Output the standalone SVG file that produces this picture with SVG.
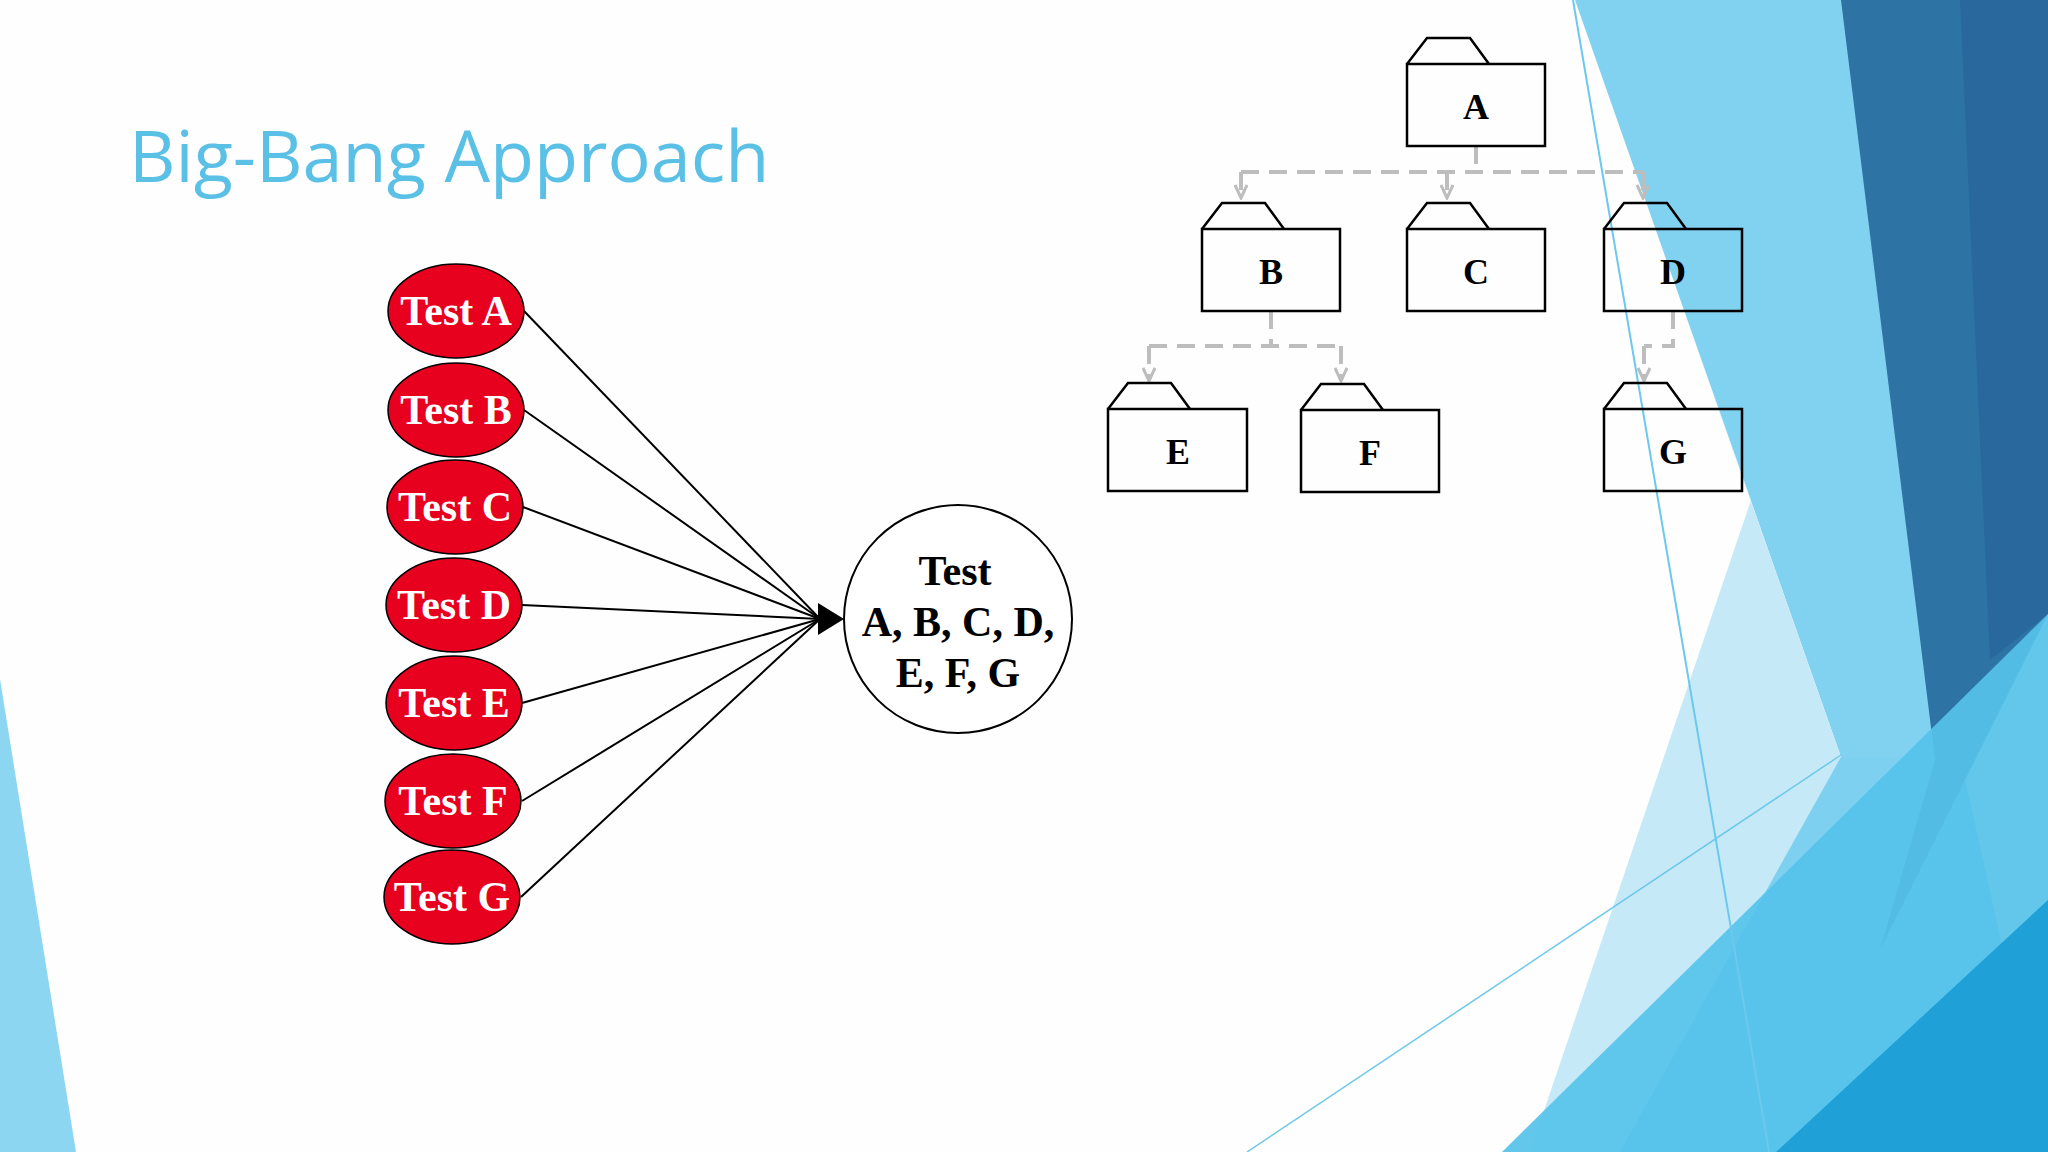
<svg xmlns="http://www.w3.org/2000/svg" width="2048" height="1152" viewBox="0 0 2048 1152">
<defs>
<style>
.ell{fill:#e8001f;stroke:#000;stroke-width:1.5}
.et{font-family:"Liberation Serif",serif;font-weight:bold;font-size:42px;fill:#fff;text-anchor:middle}
.ft{font-family:"Liberation Serif",serif;font-weight:bold;font-size:36px;fill:#000;text-anchor:middle}
.fold{fill:none;stroke:#000;stroke-width:2.5}
.dash{fill:none;stroke:#bdbdbd;stroke-width:4;stroke-dasharray:18 10}
.ln{stroke:#000;stroke-width:2}
</style>
<marker id="ga" markerWidth="16" markerHeight="14" refX="14" refY="7" orient="auto" markerUnits="userSpaceOnUse"><path d="M1,1 L14,7 L1,13" fill="none" stroke="#bdbdbd" stroke-width="3"/></marker>
</defs>
<rect width="2048" height="1152" fill="#fefefe"/>
<g id="background">
<polygon points="0,679 76,1152 0,1152" fill="#8dd6f2"/>
<polygon points="1575,0 1845,0 1960,757 1841,757" fill="#80d2f0"/>
<polygon points="1680,300 1841,757 1960,757 2048,1152 1530,1152 1751,500" fill="#c6e9f8"/>
<polygon points="1841,757 1960,757 2048,1152 1620,1152" fill="#6ac9ed" opacity="0.8"/>
<polygon points="1841,0 2048,0 2048,614 1880,950 1935,760" fill="#2d74a5"/>
<polygon points="1960,0 2048,0 2048,614 1990,660" fill="#28689c"/>
<polygon points="1502,1152 2048,614 2048,1152" fill="#56c2ea" opacity="0.92"/>
<polygon points="1776,1152 2048,900 2048,1152" fill="#1fa0d6"/>
<line x1="1573" y1="0" x2="1769" y2="1152" stroke="#6cc8ec" stroke-width="2"/>
<line x1="1247" y1="1152" x2="1841" y2="755" stroke="#6cc8ec" stroke-width="1.5"/>
</g>
<text x="129" y="182" font-family="Open Sans, sans-serif" font-size="72" fill="#5bc0e6">Big-Bang Approach</text>
<g id="connectors">
<line class="ln" x1="524" y1="311" x2="820" y2="619"/>
<line class="ln" x1="524" y1="410" x2="820" y2="619"/>
<line class="ln" x1="523" y1="507" x2="820" y2="619"/>
<line class="ln" x1="522" y1="605" x2="820" y2="619"/>
<line class="ln" x1="522" y1="703" x2="820" y2="619"/>
<line class="ln" x1="522" y1="801" x2="820" y2="619"/>
<line class="ln" x1="521" y1="897" x2="820" y2="619"/>
<polygon points="818,603 844,619 818,635" fill="#000"/>
<path class="dash" d="M1476,146 V172"/>
<path class="dash" d="M1241,172 H1643"/>
<path class="dash" d="M1241,172 V198" marker-end="url(#ga)"/>
<path class="dash" d="M1447,172 V198" marker-end="url(#ga)"/>
<path class="dash" d="M1643,172 V198" marker-end="url(#ga)"/>
<path class="dash" d="M1271,311 V346 M1149,346 H1341"/>
<path class="dash" d="M1149,346 V381" marker-end="url(#ga)"/>
<path class="dash" d="M1341,346 V381" marker-end="url(#ga)"/>
<path class="dash" d="M1673,311 V346 H1644"/>
<path class="dash" d="M1644,346 V381" marker-end="url(#ga)"/>
</g>
<g id="testA"><ellipse class="ell" cx="456" cy="311" rx="68" ry="47"/><text class="et" x="456" y="325">Test A</text></g>
<g id="testB"><ellipse class="ell" cx="456" cy="410" rx="68" ry="47"/><text class="et" x="456" y="424">Test B</text></g>
<g id="testC"><ellipse class="ell" cx="455" cy="507" rx="68" ry="47"/><text class="et" x="455" y="521">Test C</text></g>
<g id="testD"><ellipse class="ell" cx="454" cy="605" rx="68" ry="47"/><text class="et" x="454" y="619">Test D</text></g>
<g id="testE"><ellipse class="ell" cx="454" cy="703" rx="68" ry="47"/><text class="et" x="454" y="717">Test E</text></g>
<g id="testF"><ellipse class="ell" cx="453" cy="801" rx="68" ry="47"/><text class="et" x="453" y="815">Test F</text></g>
<g id="testG"><ellipse class="ell" cx="452" cy="897" rx="68" ry="47"/><text class="et" x="452" y="911">Test G</text></g>
<g id="testAll"><circle cx="958" cy="619" r="114" fill="#fff" stroke="#000" stroke-width="2"/>
<text class="ft" style="font-size:42px" x="955" y="585">Test</text>
<text class="ft" style="font-size:42px" x="958" y="636">A, B, C, D,</text>
<text class="ft" style="font-size:42px" x="958" y="687">E, F, G</text></g>
<g id="folderA"><path class="fold" d="M1407,64 L1427,38 L1470,38 L1489,64"/><rect class="fold" x="1407" y="64" width="138" height="82"/><text class="ft" x="1476" y="119">A</text></g>
<g id="folderB"><path class="fold" d="M1202,229 L1222,203 L1265,203 L1284,229"/><rect class="fold" x="1202" y="229" width="138" height="82"/><text class="ft" x="1271" y="284">B</text></g>
<g id="folderC"><path class="fold" d="M1407,229 L1427,203 L1470,203 L1489,229"/><rect class="fold" x="1407" y="229" width="138" height="82"/><text class="ft" x="1476" y="284">C</text></g>
<g id="folderD"><path class="fold" d="M1604,229 L1624,203 L1667,203 L1686,229"/><rect class="fold" x="1604" y="229" width="138" height="82"/><text class="ft" x="1673" y="284">D</text></g>
<g id="folderE"><path class="fold" d="M1108,409 L1128,383 L1171,383 L1190,409"/><rect class="fold" x="1108" y="409" width="139" height="82"/><text class="ft" x="1178" y="464">E</text></g>
<g id="folderF"><path class="fold" d="M1301,410 L1321,384 L1364,384 L1383,410"/><rect class="fold" x="1301" y="410" width="138" height="82"/><text class="ft" x="1370" y="465">F</text></g>
<g id="folderG"><path class="fold" d="M1604,409 L1624,383 L1667,383 L1686,409"/><rect class="fold" x="1604" y="409" width="138" height="82"/><text class="ft" x="1673" y="464">G</text></g>
</svg>
